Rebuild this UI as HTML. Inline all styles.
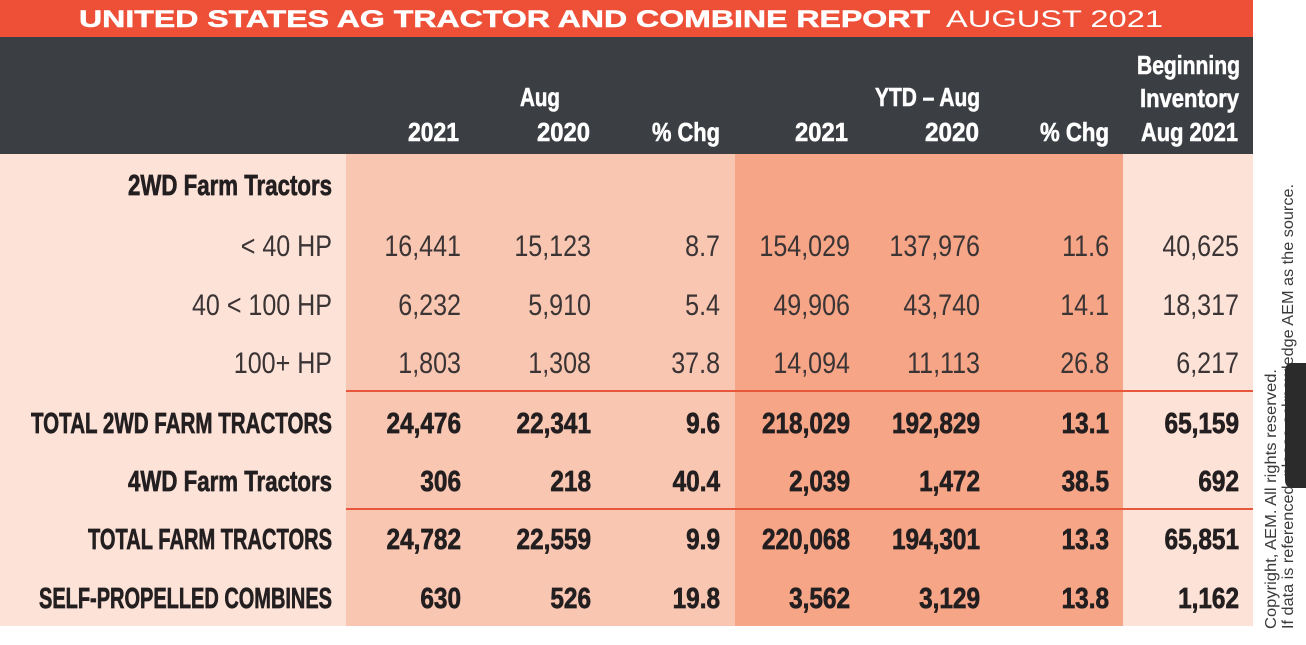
<!DOCTYPE html>
<html>
<head>
<meta charset="utf-8">
<style>
  html, body { margin:0; padding:0; background:#ffffff; }
  body { width:1306px; height:645px; overflow:hidden; }
  svg { display:block; }
  .hd { font-family:"Liberation Sans", sans-serif; font-weight:bold; font-size:26px; fill:#ffffff; stroke:#ffffff; stroke-width:0.6; }
  .lb { font-family:"Liberation Sans", sans-serif; font-weight:bold; font-size:29px; fill:#231f20; stroke:#231f20; stroke-width:0.7; }
  .rg { font-family:"Liberation Sans", sans-serif; font-size:29.5px; fill:#3a3435; }
  .bn { font-family:"Liberation Sans", sans-serif; font-weight:bold; font-size:29px; fill:#231f20; stroke:#231f20; stroke-width:0.7; }
  .cp { font-family:"Liberation Sans", sans-serif; font-size:16px; fill:#3a3a3a; }
</style>
</head>
<body>
<svg width="1306" height="645" viewBox="0 0 1306 645" xmlns="http://www.w3.org/2000/svg">
  <!-- backgrounds -->
  <rect x="0" y="0" width="1306" height="645" fill="#ffffff"/>
  <rect x="0" y="0" width="1253" height="37" fill="#ee4f37"/>
  <rect x="0" y="37" width="1253" height="117" fill="#3b3e43"/>
  <rect x="0" y="154" width="346" height="472" fill="#fde2d7"/>
  <rect x="346" y="154" width="389" height="472" fill="#f9c6b1"/>
  <rect x="735" y="154" width="388" height="472" fill="#f6a587"/>
  <rect x="1123" y="154" width="130" height="472" fill="#fde2d7"/>
  <!-- red rules -->
  <rect x="346" y="390" width="907" height="2" fill="#e8573c"/>
  <rect x="346" y="508" width="907" height="2" fill="#e8573c"/>

  <!-- title -->
  <text x="79" y="27" font-family="Liberation Sans, sans-serif" font-weight="bold" font-size="24" fill="#ffffff" stroke="#ffffff" stroke-width="0.5" textLength="851" lengthAdjust="spacingAndGlyphs">UNITED STATES AG TRACTOR AND COMBINE REPORT</text>
  <text x="946" y="27" font-family="Liberation Sans, sans-serif" font-size="24" fill="#ffffff" textLength="217" lengthAdjust="spacingAndGlyphs">AUGUST 2021</text>

  <!-- header -->
  <text class="hd" x="408" y="141" textLength="51" lengthAdjust="spacingAndGlyphs">2021</text>
  <text class="hd" x="520" y="106" textLength="40" lengthAdjust="spacingAndGlyphs">Aug</text>
  <text class="hd" x="537" y="141" textLength="53" lengthAdjust="spacingAndGlyphs">2020</text>
  <text class="hd" x="652" y="141" textLength="68" lengthAdjust="spacingAndGlyphs">% Chg</text>
  <text class="hd" x="795" y="141" textLength="53" lengthAdjust="spacingAndGlyphs">2021</text>
  <text class="hd" x="875" y="106" textLength="105" lengthAdjust="spacingAndGlyphs">YTD – Aug</text>
  <text class="hd" x="925" y="141" textLength="54" lengthAdjust="spacingAndGlyphs">2020</text>
  <text class="hd" x="1040" y="141" textLength="69" lengthAdjust="spacingAndGlyphs">% Chg</text>
  <text class="hd" x="1137" y="74" textLength="103" lengthAdjust="spacingAndGlyphs">Beginning</text>
  <text class="hd" x="1140" y="107" textLength="99" lengthAdjust="spacingAndGlyphs">Inventory</text>
  <text class="hd" x="1141" y="141" textLength="97" lengthAdjust="spacingAndGlyphs">Aug 2021</text>

  <!-- row labels -->
  <text class="lb" x="128" y="195" textLength="204" lengthAdjust="spacingAndGlyphs">2WD Farm Tractors</text>
  <text class="rg" text-anchor="end" transform="translate(332,256) scale(0.85,1)">&lt; 40 HP</text>
  <text class="rg" text-anchor="end" transform="translate(332,315) scale(0.85,1)">40 &lt; 100 HP</text>
  <text class="rg" text-anchor="end" transform="translate(332,373) scale(0.85,1)">100+ HP</text>
  <text class="lb" x="31" y="433" textLength="301" lengthAdjust="spacingAndGlyphs">TOTAL 2WD FARM TRACTORS</text>
  <text class="lb" x="128" y="491" textLength="204" lengthAdjust="spacingAndGlyphs">4WD Farm Tractors</text>
  <text class="lb" x="88" y="549" textLength="244" lengthAdjust="spacingAndGlyphs">TOTAL FARM TRACTORS</text>
  <text class="lb" x="39" y="608" textLength="293" lengthAdjust="spacingAndGlyphs">SELF-PROPELLED COMBINES</text>

  <g class="rg" text-anchor="end">
    <text transform="translate(461,256) scale(0.85,1)">16,441</text>
    <text transform="translate(591,256) scale(0.85,1)">15,123</text>
    <text transform="translate(720,256) scale(0.85,1)">8.7</text>
    <text transform="translate(850,256) scale(0.85,1)">154,029</text>
    <text transform="translate(980,256) scale(0.85,1)">137,976</text>
    <text transform="translate(1109,256) scale(0.85,1)">11.6</text>
    <text transform="translate(1239,256) scale(0.85,1)">40,625</text>

    <text transform="translate(461,315) scale(0.85,1)">6,232</text>
    <text transform="translate(591,315) scale(0.85,1)">5,910</text>
    <text transform="translate(720,315) scale(0.85,1)">5.4</text>
    <text transform="translate(850,315) scale(0.85,1)">49,906</text>
    <text transform="translate(980,315) scale(0.85,1)">43,740</text>
    <text transform="translate(1109,315) scale(0.85,1)">14.1</text>
    <text transform="translate(1239,315) scale(0.85,1)">18,317</text>

    <text transform="translate(461,373) scale(0.85,1)">1,803</text>
    <text transform="translate(591,373) scale(0.85,1)">1,308</text>
    <text transform="translate(720,373) scale(0.85,1)">37.8</text>
    <text transform="translate(850,373) scale(0.85,1)">14,094</text>
    <text transform="translate(980,373) scale(0.85,1)">11,113</text>
    <text transform="translate(1109,373) scale(0.85,1)">26.8</text>
    <text transform="translate(1239,373) scale(0.85,1)">6,217</text>
  </g>

  <g class="bn" text-anchor="end">
    <text transform="translate(461,433) scale(0.84,1)">24,476</text>
    <text transform="translate(591,433) scale(0.84,1)">22,341</text>
    <text transform="translate(720,433) scale(0.84,1)">9.6</text>
    <text transform="translate(850,433) scale(0.84,1)">218,029</text>
    <text transform="translate(980,433) scale(0.84,1)">192,829</text>
    <text transform="translate(1109,433) scale(0.84,1)">13.1</text>
    <text transform="translate(1239,433) scale(0.84,1)">65,159</text>

    <text transform="translate(461,491) scale(0.84,1)">306</text>
    <text transform="translate(591,491) scale(0.84,1)">218</text>
    <text transform="translate(720,491) scale(0.84,1)">40.4</text>
    <text transform="translate(850,491) scale(0.84,1)">2,039</text>
    <text transform="translate(980,491) scale(0.84,1)">1,472</text>
    <text transform="translate(1109,491) scale(0.84,1)">38.5</text>
    <text transform="translate(1239,491) scale(0.84,1)">692</text>

    <text transform="translate(461,549) scale(0.84,1)">24,782</text>
    <text transform="translate(591,549) scale(0.84,1)">22,559</text>
    <text transform="translate(720,549) scale(0.84,1)">9.9</text>
    <text transform="translate(850,549) scale(0.84,1)">220,068</text>
    <text transform="translate(980,549) scale(0.84,1)">194,301</text>
    <text transform="translate(1109,549) scale(0.84,1)">13.3</text>
    <text transform="translate(1239,549) scale(0.84,1)">65,851</text>

    <text transform="translate(461,608) scale(0.84,1)">630</text>
    <text transform="translate(591,608) scale(0.84,1)">526</text>
    <text transform="translate(720,608) scale(0.84,1)">19.8</text>
    <text transform="translate(850,608) scale(0.84,1)">3,562</text>
    <text transform="translate(980,608) scale(0.84,1)">3,129</text>
    <text transform="translate(1109,608) scale(0.84,1)">13.8</text>
    <text transform="translate(1239,608) scale(0.84,1)">1,162</text>
  </g>

  <!-- copyright (rotated) -->
  <text class="cp" transform="translate(1276,629) rotate(-90)" textLength="260" lengthAdjust="spacingAndGlyphs">Copyright, AEM. All rights reserved.</text>
  <text class="cp" transform="translate(1293,629) rotate(-90)" textLength="445" lengthAdjust="spacingAndGlyphs">If data is referenced, please acknowledge AEM as the source.</text>

  <!-- dark overlay pill -->
  <path d="M1306,363 L1293,363 Q1285,363 1285,371 L1285,480 Q1285,488 1293,488 L1306,488 Z" fill="#2b2b2b"/>
</svg>
</body>
</html>
